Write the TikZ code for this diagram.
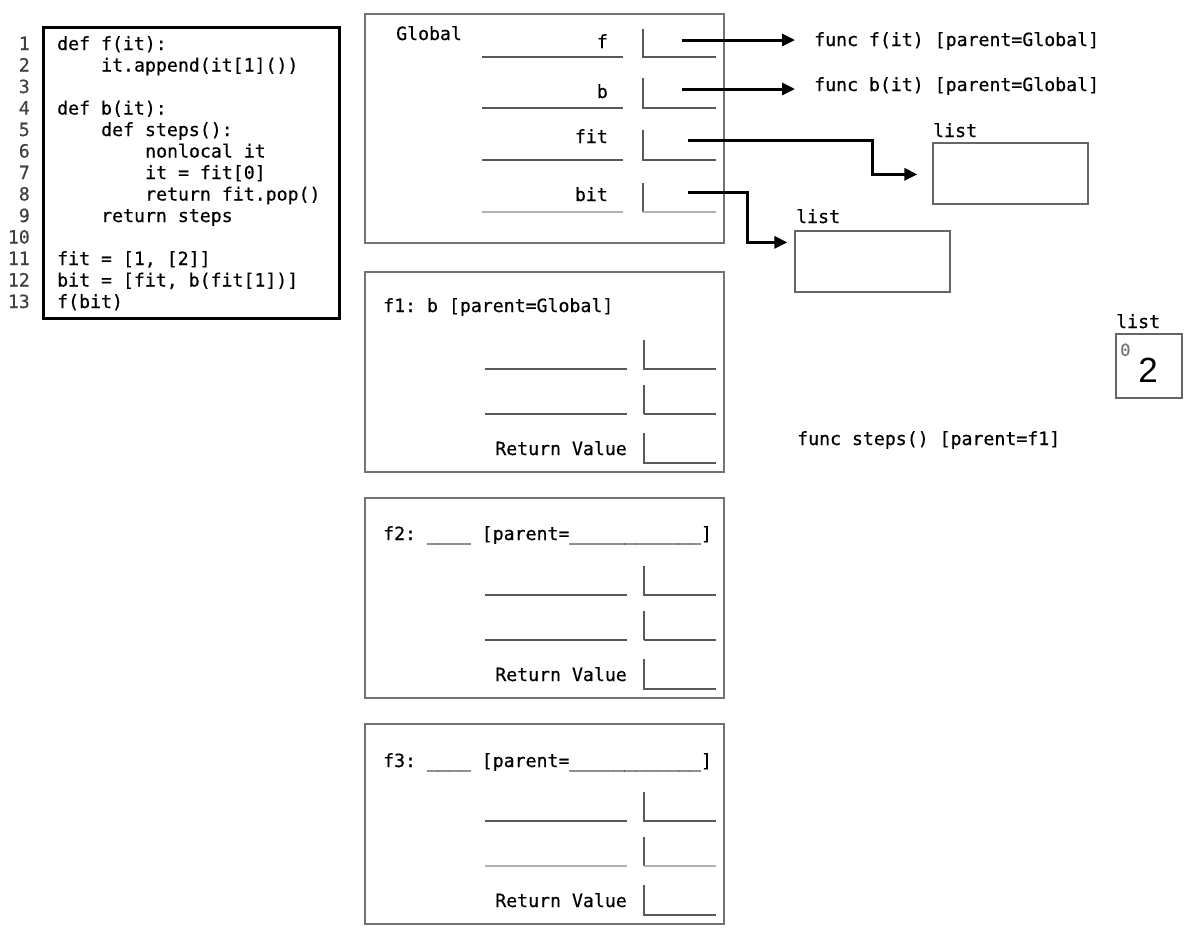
\documentclass[tikz,border=0pt]{standalone}
\usepackage{fontspec}
\setmonofont{DejaVu Sans Mono}[FakeBold=0.5]
\newfontfamily\numfont{Liberation Sans}
\usetikzlibrary{arrows.meta,calc}
\begin{document}
\begin{tikzpicture}[x=1pt,y=-1pt,
  txt/.style={font=\ttfamily\fontsize{18.2}{18}\selectfont, inner sep=0pt, anchor=base west},
  txtr/.style={txt, anchor=base east},
  lnum/.style={txt, anchor=base east, text=black!75},
  codebox/.style={draw=black, line width=3pt, inner sep=0pt},
  frm/.style={draw=black!55, line width=1.3pt, inner sep=0pt},
  listbox/.style={draw=black!60, line width=1.3pt, inner sep=0pt},
  slot/.style={draw=black!65, line width=1.1pt},
  faint/.style={draw=black!30, line width=1.1pt},
  ptr/.style={line width=3pt, -{Triangle[length=13pt,width=12pt]}},
]
\useasboundingbox (0,0) rectangle (1194,938);

% ---------- code listing ----------
\node[codebox, minimum width=296, minimum height=291] (code) at (191,172.5) {};
\foreach \i in {1,...,13} {
  \node[lnum] (n\i) at (30,{50+21.5*(\i-1)}) {\i};
}
\node[txt] (c1) at (57,50) {def f(it):};
\node[txt] (c2) at (101,71.5) {it.append(it[1]())};
\node[txt] (c4) at (57,114.5) {def b(it):};
\node[txt] (c5) at (101,136) {def steps():};
\node[txt] (c6) at (145,157.5) {nonlocal it};
\node[txt] (c7) at (145,179) {it = fit[0]};
\node[txt] (c8) at (145,200.5) {return fit.pop()};
\node[txt] (c9) at (101,222) {return steps};
\node[txt] (c11) at (57,265) {fit = [1, [2]]};
\node[txt] (c12) at (57,286.5) {bit = [fit, b(fit[1])]};
\node[txt] (c13) at (57,308) {f(bit)};

% ---------- Global frame ----------
\node[frm, minimum width=359, minimum height=229] (glob) at (544.5,128.5) {};
\node[txt] (gl) at (396,40) {Global};
\node[txtr] (gf) at (608,48) {f};
\node[txtr] (gb) at (608,98) {b};
\node[txtr] (gfit) at (608,143) {fit};
\node[txtr] (gbit) at (608,201) {bit};
\draw[slot] (482,57) -- (623,57);
\draw[slot] (482,108) -- (623,108);
\draw[slot] (482,160) -- (623,160);
\draw[faint] (482,212) -- (623,212);
\draw[slot] (643,29) -- (643,57) -- (716,57);
\draw[slot] (643,78) -- (643,108) -- (716,108);
\draw[slot] (643,130) -- (643,160) -- (716,160);
\draw[slot] (643,183) -- (643,212);
\draw[faint] (643,212) -- (716,212);
\coordinate (fv) at (682,40);
\coordinate (bv) at (682,89);
\coordinate (fitv) at (688,140);
\coordinate (bitv) at (688,192);

% ---------- objects ----------
\node[txt] (ff) at (814,46) {func f(it) [parent=Global]};
\node[txt] (fb) at (814,91) {func b(it) [parent=Global]};
\node[listbox, minimum width=155, minimum height=61] (l1) at (1010.5,173.5) {};
\node[txt] (l1t) at (933,137) {list};
\node[listbox, minimum width=155, minimum height=61] (l2) at (872.5,261.5) {};
\node[txt] (l2t) at (796,223) {list};
\node[listbox, minimum width=66, minimum height=64] (l3) at (1149,366) {};
\node[txt] (l3t) at (1116,328) {list};
\node[font=\ttfamily\fontsize{17}{17}\selectfont, text=black!55, inner sep=0pt, anchor=base west] (l3i) at (1120,356) {0};
\node[font=\numfont\fontsize{35}{35}\selectfont, inner sep=0pt, anchor=base] (l3v) at (1148,382) {2};
\node[txt] (fs) at (797,445) {func steps() [parent=f1]};

\draw[ptr] (fv) -- ($(ff.base west)+(-19,-6)$);
\draw[ptr] (bv) -- ($(fb.base west)+(-19,-2)$);
\draw[ptr] (fitv) -- ++(184,0) |- ($(l1.north west)+(-15,32)$);
\draw[ptr] (bitv) -- ++(59,0) |- ($(l2.north west)+(-7,12)$);

% ---------- frames f1, f2, f3 ----------
\foreach \t/\k in {272/1,498/2,724/3} {
  \node[frm, minimum width=359, minimum height=200] (fr\k) at (544.5,\t+100) {};
  \draw[slot] (485,\t+97) -- (627,\t+97);
  \draw[slot] (644,\t+68) -- (644,\t+97) -- (716,\t+97);
  \draw[slot] (644,\t+113) -- (644,\t+142);
  \draw[slot] (644,\t+161) -- (644,\t+191) -- (716,\t+191);
  \node[txtr] (rv\k) at (627,\t+183) {Return Value};
}
\draw[slot] (485,414) -- (627,414);
\draw[slot] (644,414) -- (716,414);
\draw[slot] (485,640) -- (627,640);
\draw[slot] (644,640) -- (716,640);
\draw[faint] (485,866) -- (627,866);
\draw[faint] (644,866) -- (716,866);
\node[txt] (t1) at (383,312) {f1: b [parent=Global]};
\node[txt] (t2) at (383,540) {f2: \_\_\_\_ [parent=\_\_\_\_\_\_\_\_\_\_\_\_]};
\node[txt] (t3) at (383,767) {f3: \_\_\_\_ [parent=\_\_\_\_\_\_\_\_\_\_\_\_]};
\end{tikzpicture}
\end{document}
